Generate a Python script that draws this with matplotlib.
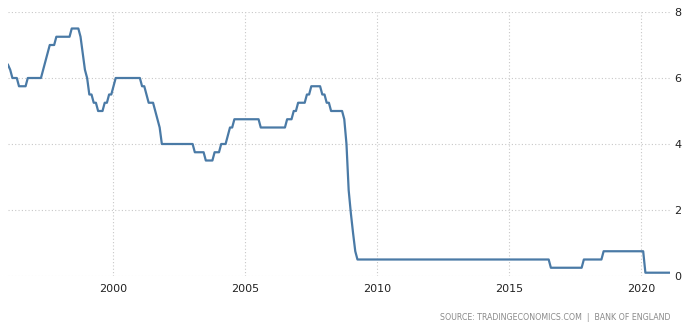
import matplotlib
matplotlib.use('Agg')
import matplotlib.pyplot as plt

# Bank of England rate, vertices of the drawn line (month, percent)
months = ['1996-01', '1996-02', '1996-03', '1996-05', '1996-06', '1996-09', '1996-10',
          '1997-04', '1997-05', '1997-06', '1997-07', '1997-08', '1997-10', '1997-11',
          '1998-05', '1998-06', '1998-09', '1998-10', '1998-11', '1998-12',
          '1999-01', '1999-02', '1999-03', '1999-04', '1999-05', '1999-06', '1999-08',
          '1999-09', '1999-10', '1999-11', '1999-12', '2000-01', '2000-02',
          '2001-01', '2001-02', '2001-03', '2001-04', '2001-05', '2001-07', '2001-08',
          '2001-09', '2001-10', '2001-11', '2003-01', '2003-02', '2003-06', '2003-07',
          '2003-10', '2003-11', '2004-01', '2004-02', '2004-04', '2004-05', '2004-06',
          '2004-07', '2004-08', '2005-07', '2005-08', '2006-07', '2006-08', '2006-10',
          '2006-11', '2006-12', '2007-01', '2007-04', '2007-05', '2007-06', '2007-07',
          '2007-11', '2007-12', '2008-01', '2008-02', '2008-03', '2008-04', '2008-09',
          '2008-10', '2008-11', '2008-12', '2009-01', '2009-02', '2009-03', '2009-04',
          '2016-07', '2016-08', '2017-10', '2017-11', '2018-07', '2018-08',
          '2020-02', '2020-03', '2021-02']
rates = [6.4, 6.25, 6.0, 6.0, 5.75, 5.75, 6.0,
         6.0, 6.25, 6.5, 6.75, 7.0, 7.0, 7.25,
         7.25, 7.5, 7.5, 7.25, 6.75, 6.25,
         6.0, 5.5, 5.5, 5.25, 5.25, 5.0, 5.0,
         5.25, 5.25, 5.5, 5.5, 5.75, 6.0,
         6.0, 5.75, 5.75, 5.5, 5.25, 5.25, 5.0,
         4.75, 4.5, 4.0, 4.0, 3.75, 3.75, 3.5,
         3.5, 3.75, 3.75, 4.0, 4.0, 4.25, 4.5,
         4.5, 4.75, 4.75, 4.5, 4.5, 4.75, 4.75,
         5.0, 5.0, 5.25, 5.25, 5.5, 5.5, 5.75,
         5.75, 5.5, 5.5, 5.25, 5.25, 5.0, 5.0,
         4.75, 4.0, 2.6, 1.9, 1.3, 0.75, 0.5,
         0.5, 0.25, 0.25, 0.5, 0.5, 0.75,
         0.75, 0.1, 0.1]

x_ticks = [2000, 2005, 2010, 2015, 2020]
y_ticks = [0, 2, 4, 6, 8]
source = 'SOURCE: TRADINGECONOMICS.COM  |  BANK OF ENGLAND'

def to_year(m):
    y, mo = m.split('-')
    return int(y) + (int(mo) - 1) / 12.0

xs = [to_year(m) for m in months]

fig = plt.figure(figsize=(6.91, 3.32), dpi=100)
ax = fig.add_axes([8 / 691, 56 / 332, 662 / 691, 264 / 332])

ax.plot(xs, rates, color='#4a7aa6', linewidth=1.6, solid_joinstyle='round')

ax.set_xlim(1996.0, 2021.1)
ax.set_ylim(0, 8)
ax.set_xticks(x_ticks)
ax.set_xticklabels([str(t) for t in x_ticks])
ax.set_yticks(y_ticks)
ax.yaxis.tick_right()
ax.tick_params(axis='both', length=0, labelsize=8, colors='#222222')
ax.tick_params(axis='x', pad=6)
ax.tick_params(axis='y', pad=3)
for s in ax.spines.values():
    s.set_visible(False)
ax.grid(True, color='#c8c8c8', linestyle=(0, (1, 2)), linewidth=0.8)
ax.set_axisbelow(True)

fig.text(670 / 691, 1 - 318 / 332, source, ha='right', va='center',
         fontsize=5.7, color='#8a8a8a')

fig.savefig('out.png', dpi=100)
